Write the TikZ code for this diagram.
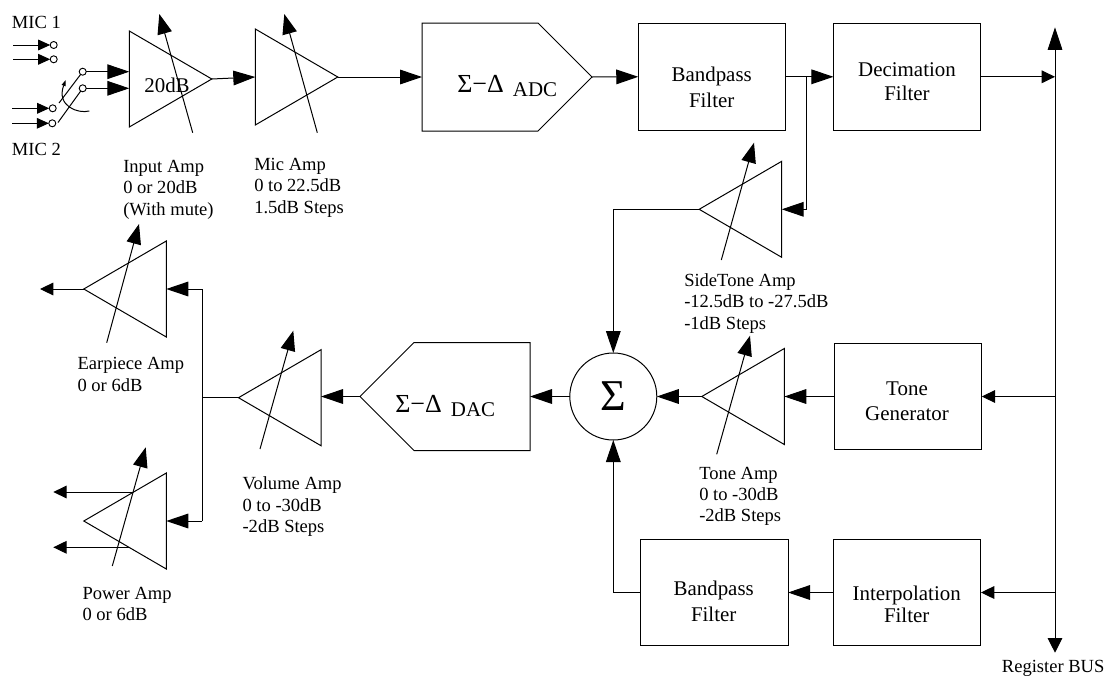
\documentclass[tikz,border=0pt]{standalone}
\usepackage{fontspec}
\setmainfont{Liberation Serif}
\usetikzlibrary{arrows.meta,shapes.geometric,shapes.symbols}
\tikzset{
  x=0.75pt,y=-0.75pt,
  wire/.style={line width=0.75pt,draw=black},
  big/.style={wire,-{Triangle[length=16.5pt,width=11pt]}},
  mid/.style={wire,-{Triangle[length=10pt,width=9.5pt]}},
  mini/.style={wire,-{Triangle[length=9pt,width=8pt]}},
  vary/.style={wire,-{Triangle[length=15pt,width=11pt]}},
  blk/.style={draw=black,line width=0.75pt,rectangle,minimum width=147.5*0.75pt,minimum height=106.7*0.75pt,inner sep=0pt,outer sep=0pt},
  amp/.style={draw=black,line width=0.75pt,isosceles triangle,isosceles triangle stretches,minimum width=96*0.75pt,minimum height=82.5*0.75pt,inner sep=0pt,outer sep=0pt,anchor=lower side},
  ampl/.style={amp,shape border rotate=180},
  conv/.style={draw=black,line width=0.75pt,signal,signal pointer angle=90,minimum width=170*0.75pt,minimum height=108*0.75pt,inner sep=0pt,outer sep=0pt},
  port/.style={draw=black,fill=white,line width=0.7pt,circle,minimum size=7*0.75pt,inner sep=0pt,outer sep=0pt},
  lbl/.style={font=\fontsize{13.9}{16}\selectfont,align=left,anchor=base west,inner sep=0pt},
  flt/.style={font=\fontsize{15.7}{18.5}\selectfont,align=center,anchor=base,inner sep=0pt},
  sdl/.style={font=\fontsize{19.5}{20}\selectfont,anchor=base west,inner sep=0pt},
}
\begin{document}
\begin{tikzpicture}
\useasboundingbox (0,0) rectangle (1106,675);
% blocks
\node[blk] (bpa) at (712,76.8) {};
\node[blk] (dec) at (907.2,76.8) {};
\node[blk] (ton) at (908,396.5) {};
\node[blk] (itp) at (907.2,592.5) {};
\node[blk] (bpb) at (714.3,592.5) {};
\node[flt] (bpat) at (711.7,107.3) {Bandpass\\[1pt]Filter};
\node[flt] (dect) at (907,100.7) {Decimation\\Filter};
\node[flt] (tont) at (907,420) {Tone\\Generator};
\node[flt] (itpt) at (906.7,622.7) {Interpolation\\[-2pt]Filter};
\node[flt] (bpbt) at (713.7,621.7) {Bandpass\\[1pt]Filter};
% amplifiers
\node[amp] (ain) at (129.3,79) {};
\node[amp] (mic) at (255.3,77) {};
\node[ampl] (sid) at (781.7,209.3) {};
\node[ampl] (tam) at (784.3,396.5) {};
\node[ampl] (vol) at (321,397.7) {};
\node[ampl] (ear) at (166.3,289) {};
\node[ampl] (pow) at (166.3,521) {};
\node[font=\fontsize{15.7}{18}\selectfont,inner sep=0pt,anchor=base] (adb) at (167,92) {20dB};
% converters
\node[conv,signal to=east,anchor=west] (adc) at (422,77) {};
\node[conv,signal to=west,anchor=east] (dac) at (530,396.5) {};
\node[sdl] (adct) at (457,92.7) {Σ−Δ\hspace{0.35em}\raisebox{-2.5pt}{\fontsize{15.7}{18}\selectfont ADC}};
\node[sdl] (dact) at (395,412.7) {Σ−Δ\hspace{0.35em}\raisebox{-2.5pt}{\fontsize{15.7}{18}\selectfont DAC}};
% summing junction
\node[draw=black,line width=0.75pt,circle,minimum size=87*0.75pt,inner sep=0pt,outer sep=0pt,font=\fontsize{33}{33}\selectfont] (sum) at (613.3,396.5) {Σ};
% microphone ports
\node[port] (mo) at (53.7,45) {};
\node[port] (mt) at (53.7,59.3) {};
\node[port] (mp) at (52.7,108.3) {};
\node[port] (mq) at (52.3,123.3) {};
\node[port] (sa) at (82.7,71.7) {};
\node[port] (sb) at (82.7,88.3) {};
% free ends
\coordinate (mos) at (13,45);
\coordinate (mts) at (13,59.3);
\coordinate (mps) at (12,108.3);
\coordinate (mqs) at (12,123.3);
\coordinate (swa) at (59,103);
\coordinate (swb) at (58,122.5);
\coordinate (cva) at (89.3,111);
\coordinate (cvb) at (65.7,80);
\coordinate (sta) at (129.3,71.7);
\coordinate (stb) at (129.3,88.3);
\coordinate (brn) at (806.7,76.8);
\coordinate (brd) at (806.7,209.3);
\coordinate (sco) at (613.3,209.3);
\coordinate (bbo) at (613.3,592.5);
\coordinate (bua) at (1055,76.8);
\coordinate (bub) at (1055,396.5);
\coordinate (buc) at (1055,592.5);
\coordinate (bta) at (1055,27.3);
\coordinate (btb) at (1055,652.7);
\coordinate (jct) at (202.3,397.7);
\coordinate (jea) at (202.3,289);
\coordinate (jeb) at (202.3,521);
\coordinate (eot) at (40,289);
\coordinate (pia) at (133,492);
\coordinate (pib) at (130,547.3);
\coordinate (poa) at (53.3,492);
\coordinate (pob) at (53.3,547.3);
% variable-gain arrows
\foreach \na/\xa/\ya/\xb/\yb in {
  vai/192.7/132.7/159.3/14, vmi/317.3/132.7/284.3/14, vsi/721.3/260/754/142.7,
  vta/716.7/454.3/750/335.7, vvo/260/449/293.3/330.7, vea/106.7/342.7/139/224,
  vpo/112.3/566/145.7/447.3}{
  \coordinate (\na s) at (\xa,\ya);
  \coordinate (\na e) at (\xb,\yb);
  \draw[vary] (\na s) -- (\na e);
}
% connectors
\draw[mini] (mos) -- (mo.west);
\draw[mini] (mts) -- (mt.west);
\draw[mini] (mps) -- (mp.west);
\draw[mini] (mqs) -- (mq.west);
\draw[wire] (swa) -- (sa);
\draw[wire] (swb) -- (sb);
\draw[wire,-{Triangle[length=4.5pt,width=3pt]}] (cva) .. controls (78,114) and (56,106) .. (cvb);
\draw[big] (sa.east) -- (sta);
\draw[big] (sb.east) -- (stb);
\draw[big] (ain.apex) -- (mic.lower side);
\draw[big] (mic.apex) -- (adc.west);
\draw[big] (adc.east) -- (bpa.west);
\draw[big] (bpa.east) -- (dec.west);
\draw[big] (brn) -- (brd) -- (sid.lower side);
\draw[big] (sid.apex) -- (sco) -- (sum.north);
\draw[mid] (dec.east) -- (bua);
\draw[{Triangle[length=17pt,width=11pt]}-{Triangle[length=11pt,width=11pt]},wire] (bta) -- (btb);
\draw[mid] (bub) -- (ton.east);
\draw[mid] (buc) -- (itp.east);
\draw[big] (ton.west) -- (tam.lower side);
\draw[big] (tam.apex) -- (sum.east);
\draw[big] (itp.west) -- (bpb.east);
\draw[big] (bpb.west) -- (bbo) -- (sum.south);
\draw[big] (sum.west) -- (dac.east);
\draw[big] (dac.west) -- (dac.west -| vol.lower side);
\draw[wire] (vol.apex) -- (jct);
\draw[wire] (jea) -- (jeb);
\draw[big] (jea) -- (ear.lower side);
\draw[big] (jeb) -- (pow.lower side);
\draw[mid] (ear.apex) -- (eot);
\draw[mid] (pia) -- (poa);
\draw[mid] (pib) -- (pob);
% labels
\node[lbl] (lma) at (11.7,28.3) {MIC 1};
\node[lbl] (lmb) at (11.7,155) {MIC 2};
\node[lbl] (lin) at (123,215) {Input Amp\\0 or 20dB\\(With mute)};
\node[lbl] (lmi) at (254,213) {Mic Amp\\0 to 22.5dB\\1.5dB Steps};
\node[lbl] (lea) at (77.3,391) {Earpiece Amp\\0 or 6dB};
\node[lbl] (lpo) at (82.3,620.7) {Power Amp\\0 or 6dB};
\node[lbl] (lvo) at (242.3,532.5) {Volume Amp\\0 to -30dB\\-2dB Steps};
\node[lbl] (lsi) at (684,329) {SideTone Amp\\-12.5dB to -27.5dB\\-1dB Steps};
\node[lbl] (lto) at (699,521.7) {Tone Amp\\0 to -30dB\\-2dB Steps};
\node[lbl] (lbu) at (1001.7,672.7) {Register BUS};
\end{tikzpicture}
\end{document}
